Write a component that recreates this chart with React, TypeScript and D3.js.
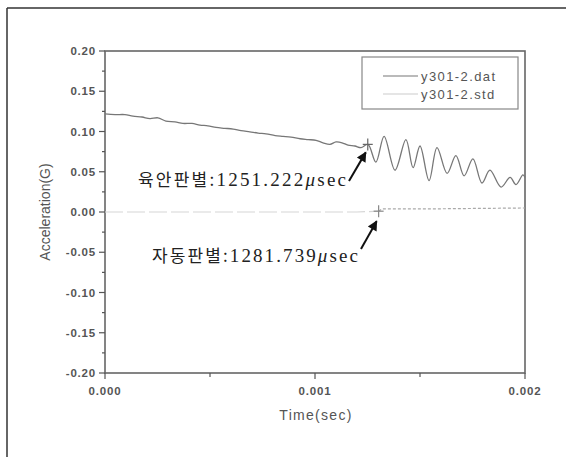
import React from 'react';
import * as d3 from 'd3';

// time in microseconds, acceleration in G
const datTimes = [0, 48, 95, 133, 176, 214, 252, 290, 333, 371, 414, 452, 490, 529, 571, 610, 648, 690, 729, 767, 810, 848, 886, 929, 967, 1005, 1038, 1071, 1100, 1129, 1157, 1190, 1219, 1252, 1290, 1329, 1381, 1433, 1467, 1500, 1543, 1581, 1629, 1671, 1710, 1752, 1795, 1833, 1886, 1929, 1957, 1990, 2000];
const datValues = [0.122, 0.121, 0.121, 0.119, 0.118, 0.116, 0.117, 0.113, 0.112, 0.110, 0.110, 0.108, 0.107, 0.105, 0.104, 0.103, 0.101, 0.0995, 0.098, 0.097, 0.095, 0.094, 0.093, 0.091, 0.090, 0.089, 0.086, 0.084, 0.087, 0.086, 0.083, 0.082, 0.080, 0.084, 0.062, 0.094, 0.052, 0.090, 0.055, 0.082, 0.039, 0.080, 0.048, 0.070, 0.045, 0.066, 0.036, 0.052, 0.031, 0.043, 0.034, 0.046, 0.043];

const stdTimes = [0, 400, 800, 1200, 1303, 1320, 1600, 2000];
const stdValues = [0.0, 0.0, 0.0, 0.0, 0.001, 0.004, 0.004, 0.005];

const yTicks = [0.2, 0.15, 0.1, 0.05, 0, -0.05, -0.1, -0.15, -0.2];
const yMinor = [0.175, 0.125, 0.075, 0.025, -0.025, -0.075, -0.125, -0.175];
const xTicks = [0, 0.001, 0.002];
const xMinor = [0.0005, 0.0015];

const seriesNames = ['y301-2.dat', 'y301-2.std'];
const notes = [
  { name: '육안판별:', num: '1251.222', t: 1251.222, v: 0.084 },
  { name: '자동판별:', num: '1281.739', t: 1303, v: 0.001 },
];

const left = 105, right = 525, top = 51, bottom = 373;

export default function App() {
  const x = d3.scaleLinear().domain([0, 0.002]).range([left, right]);
  const y = d3.scaleLinear().domain([-0.2, 0.2]).range([bottom, top]);

  const datLine = d3.line<number>()
    .x((_, i) => x(datTimes[i] * 1e-6))
    .y((d) => y(d))
    .curve(d3.curveCatmullRom.alpha(0.5))(datValues) || '';
  const stdPre = stdValues.map((v, i) => [stdTimes[i], v]).filter((d) => d[0] <= 1303);
  const stdPost = stdValues.map((v, i) => [stdTimes[i], v]).filter((d) => d[0] >= 1303);
  const stdGen = d3.line<number[]>().x((d) => x(d[0] * 1e-6)).y((d) => y(d[1]));

  const tickFont = { fontFamily: 'Liberation Sans, Arial, sans-serif', fontSize: 11.5, fill: '#555', fontWeight: 'bold' as const, letterSpacing: 0.8 };

  // arrows: tail near the label end, tip at the marker
  const arrows = [
    { x1: 349, y1: 181, x2: x(notes[0].t * 1e-6) - 2, y2: y(notes[0].v) + 8 },
    { x1: 361, y1: 249, x2: x(notes[1].t * 1e-6) - 2, y2: y(notes[1].v) + 10 },
  ];
  const labelPos = [
    { x: 138, y: 186, w: 208 },
    { x: 152, y: 262, w: 206 },
  ];

  return (
    <svg width={566} height={457} style={{ position: 'absolute', left: 0, top: 0, background: '#fff' }}>
      <defs>
        <marker id="ah" viewBox="0 0 10 10" refX="9" refY="5" markerWidth="13" markerHeight="10" markerUnits="userSpaceOnUse" orient="auto">
          <path d="M0,0 L10,5 L0,10 z" fill="#111" />
        </marker>
      </defs>
      {/* outer frame (top and left only) */}
      <line x1={7} y1={8} x2={566} y2={8} stroke="#333" strokeWidth={1.5} />
      <line x1={7} y1={8} x2={7} y2={457} stroke="#333" strokeWidth={1.5} />

      {/* plot frame */}
      <rect x={left} y={top} width={right - left} height={bottom - top} fill="none" stroke="#666" strokeWidth={1.6} />

      {/* y ticks */}
      {yTicks.map((t) => (
        <g key={t}>
          <line x1={left - 6} x2={left} y1={y(t)} y2={y(t)} stroke="#555" strokeWidth={1.2} />
          <text x={left - 9} y={y(t)} dy="0.35em" textAnchor="end" {...tickFont}>{t.toFixed(2)}</text>
        </g>
      ))}
      {yMinor.map((t) => (
        <line key={t} x1={left - 3} x2={left} y1={y(t)} y2={y(t)} stroke="#555" strokeWidth={1.2} />
      ))}
      {/* x ticks */}
      {xTicks.map((t) => (
        <g key={t}>
          <line x1={x(t)} x2={x(t)} y1={bottom} y2={bottom + 6} stroke="#555" strokeWidth={1.2} />
          <text x={x(t)} y={bottom + 22} textAnchor="middle" {...tickFont}>{t.toFixed(3)}</text>
        </g>
      ))}
      {xMinor.map((t) => (
        <line key={t} x1={x(t)} x2={x(t)} y1={bottom} y2={bottom + 4} stroke="#555" strokeWidth={1.2} />
      ))}

      <text x={316} y={420} textAnchor="middle" fontFamily="Liberation Sans, Arial, sans-serif" fontSize={14} fill="#555" letterSpacing={1.3}>Time(sec)</text>
      <text transform={`translate(50,${(top + bottom) / 2}) rotate(-90)`} textAnchor="middle" fontFamily="Liberation Sans, Arial, sans-serif" fontSize={14} fill="#555">Acceleration(G)</text>

      {/* series */}
      <path d={stdGen(stdPre as any) || ''} fill="none" stroke="#d6d6d6" strokeWidth={1.2} strokeDasharray="18,4" />
      <path d={stdGen(stdPost as any) || ''} fill="none" stroke="#aaa" strokeWidth={1.2} strokeDasharray="3,2" />
      <path d={datLine} fill="none" stroke="#777" strokeWidth={1.3} />

      {/* markers */}
      {notes.map((n, i) => {
        const cx = x(n.t * 1e-6), cy = y(n.v);
        return (
          <g key={i} stroke={i === 0 ? '#666' : '#888'} strokeWidth={1.2}>
            <line x1={cx - 5} x2={cx + 5} y1={cy} y2={cy} />
            <line x1={cx} x2={cx} y1={cy - 6} y2={cy + 6} />
          </g>
        );
      })}

      {/* annotations */}
      {notes.map((n, i) => (
        <text key={i} x={labelPos[i].x} y={labelPos[i].y} fontSize={19} fill="#222" textLength={labelPos[i].w} lengthAdjust="spacing" fontFamily="Liberation Serif, 'Times New Roman', serif">
          <tspan fontFamily="'Noto Sans CJK KR', sans-serif" fontSize={17}>{n.name}</tspan>
          <tspan>{n.num}</tspan>
          <tspan fontStyle="italic">μ</tspan>
          <tspan>sec</tspan>
        </text>
      ))}
      {arrows.map((a, i) => (
        <line key={i} x1={a.x1} y1={a.y1} x2={a.x2} y2={a.y2} stroke="#111" strokeWidth={2} markerEnd="url(#ah)" />
      ))}

      {/* legend */}
      <rect x={362} y={57} width={156} height={52} fill="#fff" stroke="#888" strokeWidth={1.2} />
      {seriesNames.map((s, i) => (
        <g key={s}>
          <line x1={383} x2={418} y1={76 + i * 18} y2={76 + i * 18} stroke={i === 0 ? '#777' : '#ccc'} strokeWidth={1.2} />
          <text x={421} y={76 + i * 18} dy="0.35em" fontFamily="Liberation Sans, Arial, sans-serif" fontSize={13} fill="#555" letterSpacing={1.4}>{s}</text>
        </g>
      ))}
    </svg>
  );
}
